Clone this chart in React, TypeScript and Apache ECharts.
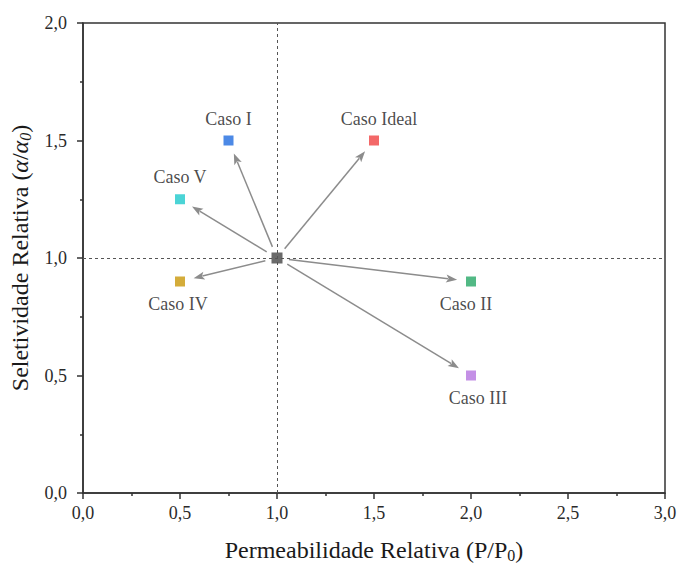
import React, { useEffect, useRef } from "react";
import * as echarts from "echarts";

const caseNames = ["Caso Ideal", "Caso I", "Caso II", "Caso III", "Caso IV", "Caso V"];
const permeability = [1.5, 0.75, 2.0, 2.0, 0.5, 0.5];
const selectivity = [1.5, 1.5, 0.9, 0.5, 0.9, 1.25];
const caseColors = ["#f04242", "#1f6be0", "#27a866", "#b574e0", "#c99709", "#1ec9cc"];
const referencePoint = [1.0, 1.0];
const xTicks = ["0,0", "0,5", "1,0", "1,5", "2,0", "2,5", "3,0"];
const yTicks = ["0,0", "0,5", "1,0", "1,5", "2,0"];

const labelBelow = ["Caso II", "Caso III", "Caso IV"];
const labelShift: Record<string, number> = {
  "Caso Ideal": 5,
  "Caso I": 0,
  "Caso II": -5,
  "Caso III": 7,
  "Caso IV": -2,
  "Caso V": 0,
};

const FONT = "'Liberation Serif', 'Times New Roman', serif";

export default function App() {
  const ref = useRef<HTMLDivElement>(null);
  useEffect(() => {
    if (!ref.current) return;
    const chart = echarts.init(ref.current, undefined, { renderer: "svg" });

    const scatterData = caseNames.map((name, i) => ({
      name,
      value: [permeability[i], selectivity[i]],
      itemStyle: { color: caseColors[i] },
      label: {
        show: true,
        formatter: name,
        position: labelBelow.includes(name) ? "bottom" : "top",
        distance: 8,
        offset: [labelShift[name] || 0, 0],
        fontFamily: FONT,
        fontSize: 18,
        color: "#1a1a1a",
      },
    }));

    const arrowData = caseNames.map((_, i) => [
      referencePoint[0],
      referencePoint[1],
      permeability[i],
      selectivity[i],
    ]);

    const renderArrow = (params: any, api: any) => {
      const s = api.coord([api.value(0), api.value(1)]);
      const t = api.coord([api.value(2), api.value(3)]);
      const dx = t[0] - s[0];
      const dy = t[1] - s[1];
      const len = Math.sqrt(dx * dx + dy * dy);
      const ux = dx / len;
      const uy = dy / len;
      const startOff = 12;
      const endOff = 14;
      const head = 11;
      const half = 4;
      const x0 = s[0] + ux * startOff;
      const y0 = s[1] + uy * startOff;
      const tipX = t[0] - ux * endOff;
      const tipY = t[1] - uy * endOff;
      const bx = tipX - ux * head;
      const by = tipY - uy * head;
      const px = -uy;
      const py = ux;
      const color = "#8c8c8c";
      return {
        type: "group",
        children: [
          {
            type: "line",
            shape: { x1: x0, y1: y0, x2: bx + ux * 2, y2: by + uy * 2 },
            style: { stroke: color, lineWidth: 1.5 },
          },
          {
            type: "polygon",
            shape: {
              points: [
                [tipX, tipY],
                [bx + px * half, by + py * half],
                [bx + ux * 2.5, by + uy * 2.5],
                [bx - px * half, by - py * half],
              ],
            },
            style: { fill: color },
          },
        ],
      };
    };

    chart.setOption({
      animation: false,
      backgroundColor: "#fff",
      grid: {
        left: 83,
        right: 16,
        top: 23,
        bottom: 74,
        outerBoundsMode: "none",
        containLabel: false,
        show: true,
        borderColor: "#333",
        borderWidth: 1.5,
        backgroundColor: "transparent",
      },
      xAxis: {
        type: "value",
        min: 0,
        max: 3,
        interval: 0.5,
        name: "Permeabilidade Relativa (P/P{sub|0})",
        nameLocation: "middle",
        nameGap: 43,
        nameTextStyle: {
          fontFamily: FONT,
          fontSize: 24,
          color: "#1a1a1a",
          rich: {
            sub: { fontFamily: FONT, fontSize: 16, color: "#1a1a1a", padding: [11, 0, 0, 0] },
          },
        },
        axisLine: { show: true, lineStyle: { color: "#333", width: 1.5 } },
        axisTick: { show: true, inside: false, length: 6, lineStyle: { color: "#333", width: 1.5 } },
        minorTick: { show: true, splitNumber: 2, length: 3, lineStyle: { color: "#333", width: 1.5 } },
        splitLine: { show: false },
        axisLabel: {
          fontFamily: FONT,
          fontSize: 18,
          color: "#2a2a2a",
          margin: 11,
          formatter: (v: number) => xTicks[Math.round(v * 2)] ?? "",
        },
      },
      yAxis: {
        type: "value",
        min: 0,
        max: 2,
        interval: 0.5,
        name: "Seletividade Relativa ({it|α}/{it|α}{sub|0})",
        nameLocation: "middle",
        nameGap: 38,
        nameRotate: 90,
        nameTextStyle: {
          fontFamily: FONT,
          fontSize: 24,
          color: "#1a1a1a",
          rich: {
            it: { fontFamily: FONT, fontSize: 24, fontStyle: "italic", color: "#1a1a1a" },
            sub: { fontFamily: FONT, fontSize: 16, fontStyle: "italic", color: "#1a1a1a", padding: [11, 0, 0, 0] },
          },
        },
        axisLine: { show: true, lineStyle: { color: "#333", width: 1.5 } },
        axisTick: { show: true, inside: false, length: 6, lineStyle: { color: "#333", width: 1.5 } },
        minorTick: { show: true, splitNumber: 2, length: 3, lineStyle: { color: "#333", width: 1.5 } },
        splitLine: { show: false },
        axisLabel: {
          fontFamily: FONT,
          fontSize: 18,
          color: "#2a2a2a",
          margin: 16,
          formatter: (v: number) => yTicks[Math.round(v * 2)] ?? "",
        },
      },
      series: [
        {
          type: "custom",
          renderItem: renderArrow,
          data: arrowData,
          encode: { x: [0, 2], y: [1, 3] },
          silent: true,
          z: 2,
        },
        {
          type: "scatter",
          symbol: "rect",
          symbolSize: 10,
          data: scatterData,
          z: 3,
          markLine: {
            silent: true,
            symbol: "none",
            label: { show: false },
            lineStyle: { color: "#555", width: 1, type: [3, 3] },
            data: [{ xAxis: referencePoint[0] }, { yAxis: referencePoint[1] }],
          },
        },
        {
          type: "scatter",
          symbol: "rect",
          symbolSize: 11,
          data: [[referencePoint[0], referencePoint[1]]],
          itemStyle: { color: "#454545" },
          z: 4,
        },
      ],
    });
    return () => chart.dispose();
  }, []);
  return (
    <div
      ref={ref}
      style={{ position: "absolute", left: 0, top: 0, width: 681, height: 567 }}
    />
  );
}
